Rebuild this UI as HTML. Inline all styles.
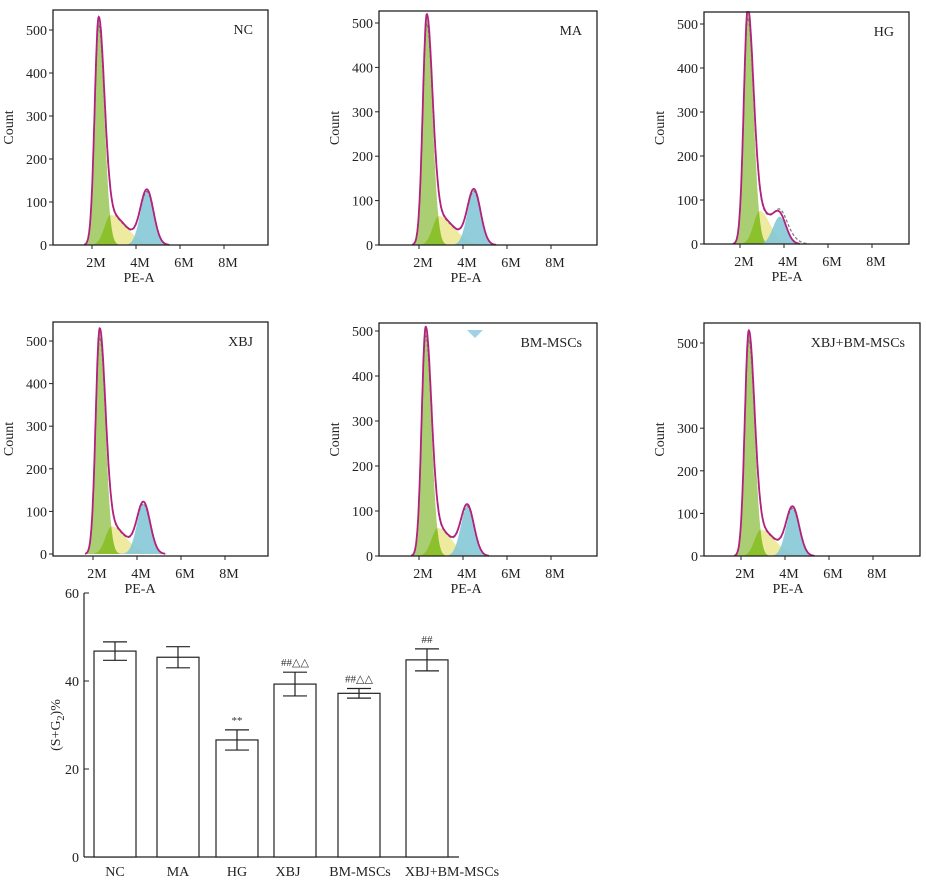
<!DOCTYPE html>
<html><head><meta charset="utf-8"><style>
html,body{margin:0;padding:0;background:#fff;}
svg{display:block;font-family:"Liberation Serif",serif;}
</style></head><body>
<svg id="fig" width="926" height="890" viewBox="0 0 926 890" xmlns="http://www.w3.org/2000/svg"></svg>
<script>
// ---- histogram data (per panel, in M units / counts) ----
const panelNames = ["NC","MA","HG","XBJ","BM-MSCs","XBJ+BM-MSCs"];
const g1Mean = [2.3, 2.35, 2.35, 2.3, 2.3, 2.35];
const g1Height = [520, 510, 525, 520, 500, 520];
const g2Mean = [4.5, 4.5, 3.8, 4.3, 4.2, 4.35];
const g2Height = [125, 122, 62, 118, 110, 112];
const sHeight = [70, 65, 75, 65, 62, 62];
const countTicks = [[0,100,200,300,400,500],[0,100,200,300,400,500],[0,100,200,300,400,500],[0,100,200,300,400,500],[0,100,200,300,400,500],[0,100,200,300,500]];
const peTicks = [2,4,6,8];
const peTickLabels = ["2M","4M","6M","8M"];

// ---- bar chart data ----
const groups = ["NC","MA","HG","XBJ","BM-MSCs","XBJ+BM-MSCs"];
const means = [46.8, 45.4, 26.6, 39.3, 37.2, 44.8];
const errs = [2.1, 2.4, 2.3, 2.7, 1.1, 2.5];
const marks = ["", "", "**", "##△△", "##△△", "##"];
const yTicks = [0,20,40,60];

// layout (pixels)
const frames = [
 {l:53,t:10,r:268,b:245,y0:245,y500:30,x2:92},
 {l:379,t:11,r:597,b:245,y0:245,y500:23,x2:419},
 {l:704,t:12,r:909,b:244,y0:244,y500:24,x2:740},
 {l:53,t:322,r:268,b:556,y0:554,y500:341,x2:93},
 {l:379,t:323,r:597,b:556,y0:556,y500:331,x2:419},
 {l:704,t:323,r:920,b:556,y0:556,y500:343,x2:741}
];
const barLeft=[94,157,216,274,338,406];
const labelDx=[0,0,0,-7,1,25];
const NS="http://www.w3.org/2000/svg";
const svg=document.getElementById('fig');
function el(tag,attrs,parent){const e=document.createElementNS(NS,tag);for(const k in attrs)e.setAttribute(k,attrs[k]);(parent||svg).appendChild(e);return e;}
function txt(s,attrs,parent){const e=el('text',attrs,parent);e.textContent=s;return e;}
function gauss(x,m,s,h){return h*Math.exp(-0.5*((x-m)/s)**2);}

frames.forEach((f,i)=>{
  const g=el('g',{});
  
  
  const xs=v=>f.x2+(v-2)*22;
  const ys=v=>f.y0-(v/500)*(f.y0-f.y500);
  const vmin=(f.l-f.x2)/22+2, vmax=(f.r-f.x2)/22+2;
  const g1=v=>gauss(v,g1Mean[i],v<g1Mean[i]?0.18:0.26,g1Height[i]);
  const sP=v=>{const c=g1Mean[i]+0.55;const w=v<c?0.28:(g2Mean[i]-g1Mean[i])*0.32;return v<g1Mean[i]-0.25?0:gauss(v,c,w,sHeight[i]);};
  const g2=v=>gauss(v,g2Mean[i],0.3,g2Height[i]);
  const tail=v=>i===2?gauss(v,4.2,0.35,18):0;
  function area(fn){let d='M'+xs(vmin)+','+f.y0;for(let v=vmin;v<=vmax;v+=0.02){d+=' L'+xs(v).toFixed(1)+','+Math.max(f.t,Math.min(f.y0,ys(fn(v)))).toFixed(1);}d+=' L'+xs(vmax)+','+f.y0+' Z';return d;}
  function line(fn){let d='';for(let v=vmin;v<=vmax;v+=0.02){const y=fn(v);if(y<0.5){continue;}d+=(d?' L':'M')+xs(v).toFixed(1)+','+Math.max(f.t,Math.min(f.y0,ys(y))).toFixed(1);}return d;}
  const s=el('path',{d:area(sP),fill:'#eeeaa0'},g);
  const a=el('path',{d:area(g1),fill:'#a4cc6a','fill-opacity':'0.95'},g);
  const ov=el('path',{d:area(v=>Math.min(g1(v),sP(v))),fill:'#8cc02c'},g);
  const b=el('path',{d:area(g2),fill:'#85c8d6','fill-opacity':'0.9'},g);
  const tot=v=>g1(v)+sP(v)+g2(v)+tail(v);
  const ld=el('path',{d:line(v=>tot(v)*0.96),fill:'none',stroke:'#777','stroke-width':'1.2','stroke-dasharray':'3,2'},g);
  const lt=el('path',{d:line(v=>g1(v)+sP(v)+g2(v)),fill:'none',stroke:'#b3207e','stroke-width':'1.8'},g);
  const fr=el('rect',{x:f.l,y:f.t,width:f.r-f.l,height:f.b-f.t,fill:'none',stroke:'#222','stroke-width':'1.3'},g);
  countTicks[i].forEach(c=>{
    const y=ys(c);
    el('line',{x1:f.l-4,x2:f.l,y1:y,y2:y,stroke:'#222'},g);
    const t=txt(String(c),{x:f.l-6,y:y+5,'text-anchor':'end','font-size':'14',fill:'#222'},g);
    
  });
  peTicks.forEach((v,k)=>{
    const x=xs(v);
    el('line',{x1:x,x2:x,y1:f.b,y2:f.b+4,stroke:'#222'},g);
    const t=txt(peTickLabels[k],{x:x+4,y:f.b+22,'text-anchor':'middle','font-size':'14',fill:'#222'},g);
    
  });
  const xt=txt('PE-A',{x:f.x2+47,y:f.b+37,'text-anchor':'middle','font-size':'14',fill:'#222'},g);
  
  const cy=(f.t+f.b)/2;
  const yt=txt('Count',{x:f.l-40,y:cy,'text-anchor':'middle','font-size':'14',fill:'#222',transform:'rotate(-90 '+(f.l-40)+' '+cy+')'},g);
  
  const nt=txt(panelNames[i],{x:f.r-15,y:f.t+24,'text-anchor':'end','font-size':'14',fill:'#222'},g);
  
});
const tri=el('path',{d:'M467,330 L483,330 L475,338 Z',fill:'#9fd2e6'});



// ---- bar chart ----
const bx0=84, bx1=459, by0=857, by60=593;
const byS=v=>by0-(v/60)*(by0-by60);
const barW=42;
const bg=el('g',{});


el('line',{x1:bx0,x2:bx0,y1:by60,y2:by0,stroke:'#222','stroke-width':'1.2'},bg);
el('line',{x1:bx0,x2:bx1,y1:by0,y2:by0,stroke:'#222','stroke-width':'1.2'},bg);
yTicks.forEach(v=>{
  const y=byS(v);
  el('line',{x1:bx0,x2:bx0+5,y1:y,y2:y,stroke:'#222'},bg);
  const t=txt(String(v),{x:bx0-5,y:y+5,'text-anchor':'end','font-size':'14',fill:'#222'},bg);
  
});
const ylab=el('text',{x:0,y:0,'font-size':'14',fill:'#222','text-anchor':'middle',transform:'translate(60,725) rotate(-90)'},bg);


const ts1=el('tspan',{},ylab);ts1.textContent='(S+G';
const ts2=el('tspan',{dy:'4','font-size':'10'},ylab);ts2.textContent='2';
const ts3=el('tspan',{dy:'-4'},ylab);ts3.textContent=')%';
groups.forEach((gname,i)=>{
  const x=barLeft[i];
  const cx=x+barW/2;
  const r=el('rect',{x:x,y:byS(means[i]),width:barW,height:by0-byS(means[i]),fill:'#fff',stroke:'#222','stroke-width':'1.2'},bg);
  
  const hi=byS(means[i]+errs[i]), lo=byS(means[i]-errs[i]);
  const e=el('path',{d:`M${cx},${hi} L${cx},${lo} M${cx-12},${hi} L${cx+12},${hi} M${cx-12},${lo} L${cx+12},${lo}`,stroke:'#222','stroke-width':'1.2',fill:'none'},bg);
  
  if(marks[i]){const m=txt(marks[i],{x:cx,y:hi-6,'text-anchor':'middle','font-size':'11',fill:'#333'},bg);}
  const l=txt(gname,{x:cx+labelDx[i],y:by0+19,'text-anchor':'middle','font-size':'14',fill:'#222'},bg);
  
});
</script>
</body></html>
